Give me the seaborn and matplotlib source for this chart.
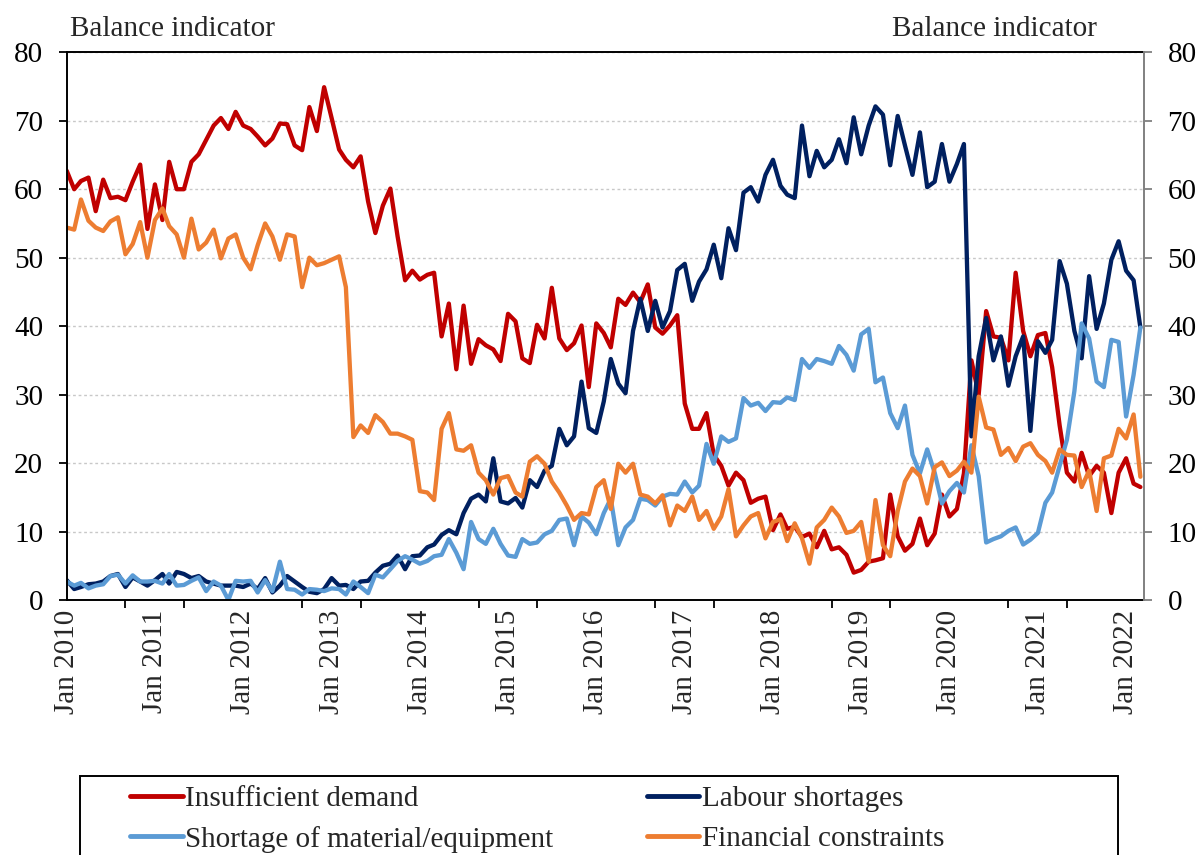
import numpy as np
import pandas as pd
import matplotlib
matplotlib.use("Agg")
import matplotlib.pyplot as plt
import matplotlib.dates as mdates
from matplotlib.patches import Rectangle
from matplotlib.lines import Line2D
import seaborn as sns

# ---------------- data (monthly, Jan 2010 - Mar 2022) ----------------
months = pd.date_range("2010-01-01", periods=147, freq="MS")

insufficient_demand = [
    62.7, 60.0, 61.2, 61.7, 56.8, 61.4, 58.7, 58.9, 58.4, 61.1, 63.6, 54.2, 60.7, 55.5, 64.0, 60.0, 60.0, 64.0, 65.1, 67.2, 69.3, 70.4, 68.8, 71.3, 69.3,
    68.8, 67.7, 66.4, 67.4, 69.6, 69.5, 66.4, 65.7, 72.0, 68.5, 74.9, 70.4, 65.8, 64.3, 63.2, 64.8, 58.2, 53.6, 57.6, 60.1, 53.1, 46.7, 48.1, 46.8, 47.5, 47.8,
    38.5, 43.3, 33.7, 43.0, 34.5, 38.1, 37.2, 36.6, 34.9, 41.8, 40.7, 35.3, 34.6, 40.2, 38.2, 45.6, 38.2, 36.5, 37.5, 40.1, 31.1, 40.4, 39.0,
    36.9, 44.0, 43.1, 44.9, 43.5, 46.1, 39.8, 38.9, 40.1, 41.6, 28.7, 25.0, 25.0, 27.3, 21.2, 19.6, 16.7, 18.6, 17.5, 14.2, 14.8, 15.1, 10.2, 12.5, 10.4,
    10.7, 9.2, 9.7, 7.7, 10.1, 7.4, 7.7, 6.6, 4.0, 4.4, 5.6, 5.8, 6.1, 15.4, 9.3, 7.2, 8.2, 11.9, 8.0, 9.7, 15.4, 12.2, 13.3,
    18.5, 35.0, 30.0, 42.2, 38.5, 38.3, 35.0, 47.8, 39.3, 35.6, 38.7, 39.0, 34.0, 25.5, 18.6, 17.3, 21.5, 18.1, 19.6, 18.6, 12.7, 18.6, 20.7, 17.0, 16.5,
]

labour_shortages = [
    2.9, 1.6, 1.9, 2.3, 2.4, 2.7, 3.5, 3.8, 1.9, 3.3, 2.7, 2.1, 2.9, 3.8, 2.4, 4.1, 3.8, 3.2, 3.5, 2.7, 2.4, 2.1, 2.1, 2.1,
    1.9, 2.4, 1.6, 3.2, 1.1, 2.1, 3.5, 2.7, 1.9, 1.2, 1.0, 1.6, 3.2, 2.1, 2.2, 1.6, 2.7, 2.8, 4.0, 5.0, 5.3, 6.5, 4.5, 6.4,
    6.5, 7.7, 8.1, 9.5, 10.2, 9.6, 12.7, 14.8, 15.4, 14.4, 20.7, 14.4, 14.1, 14.9, 13.5, 17.5, 16.5, 18.9, 19.6, 25.0, 22.6, 23.9, 31.9, 25.1, 24.4, 29.0,
    35.2, 31.6, 30.2, 39.3, 44.0, 39.3, 43.7, 39.8, 42.2, 48.2, 49.1, 43.7, 46.5, 48.3, 51.9, 47.0, 54.3, 51.1, 59.5, 60.3, 58.2, 62.1, 64.3, 60.5, 59.2,
    58.7, 69.3, 61.9, 65.6, 63.2, 64.3, 67.3, 63.8, 70.5, 65.1, 69.3, 72.1, 70.9, 63.5, 70.7, 66.4, 62.1, 68.3, 60.3, 61.1, 66.6, 61.1, 63.7, 66.6,
    23.9, 35.6, 41.2, 35.0, 38.5, 31.3, 35.6, 38.5, 24.7, 37.8, 36.1, 38.0, 49.5, 46.2, 39.3, 35.3, 47.3, 39.6, 43.3, 49.7, 52.4, 48.1, 46.7, 39.8,
]

material_equipment = [
    2.7, 2.1, 2.5, 1.7, 2.1, 2.3, 3.5, 3.7, 2.4, 3.6, 2.7, 2.7, 2.8, 2.4, 3.8, 2.1, 2.2, 2.8, 3.3, 1.3, 2.7, 2.1, 0.0, 2.8, 2.7,
    2.8, 1.1, 2.9, 1.3, 5.6, 1.6, 1.5, 0.8, 1.6, 1.5, 1.3, 1.7, 1.6, 0.8, 2.7, 1.9, 1.0, 3.7, 3.3, 4.5, 5.7, 6.4, 5.9,
    5.3, 5.7, 6.4, 6.6, 8.9, 6.9, 4.5, 11.4, 8.9, 8.2, 10.4, 8.2, 6.5, 6.3, 8.9, 8.2, 8.4, 9.6, 10.1, 11.7, 11.9, 8.0, 12.2, 11.3, 9.6, 12.7,
    14.8, 8.0, 10.6, 11.7, 14.8, 14.6, 13.8, 15.1, 15.5, 15.4, 17.3, 15.7, 16.7, 22.8, 19.9, 23.9, 23.1, 23.6, 29.5, 28.4, 28.8, 27.6, 28.9, 28.8, 29.6,
    29.2, 35.2, 33.9, 35.2, 34.9, 34.5, 37.1, 35.8, 33.5, 38.8, 39.6, 31.8, 32.5, 27.3, 25.1, 28.4, 21.2, 18.5, 22.0, 18.6, 14.1, 15.9, 17.1, 15.7,
    22.6, 18.1, 8.4, 8.9, 9.3, 10.1, 10.6, 8.1, 8.8, 9.8, 14.2, 15.7, 19.6, 23.4, 30.5, 40.4, 38.2, 31.9, 31.1, 38.0, 37.7, 26.8, 32.9, 39.8,
]

financial_constraints = [
    54.4, 54.1, 58.5, 55.4, 54.4, 53.9, 55.3, 55.9, 50.5, 52.0, 55.2, 50.0, 55.5, 57.2, 54.6, 53.4, 50.0, 55.7, 51.2, 52.2, 54.1, 49.9, 52.8, 53.4, 50.0,
    48.3, 51.8, 55.0, 53.1, 49.7, 53.4, 53.1, 45.7, 50.0, 48.9, 49.2, 49.7, 50.2, 45.7, 23.8, 25.5, 24.4, 27.0, 26.0, 24.3, 24.3, 23.9, 23.4,
    15.9, 15.7, 14.6, 25.0, 27.3, 22.0, 21.8, 22.6, 18.6, 17.5, 15.4, 17.8, 18.1, 15.7, 15.1, 20.2, 21.0, 19.9, 17.3, 15.7, 13.8, 11.7, 12.7, 12.5, 16.5, 17.5,
    13.3, 19.9, 18.6, 19.9, 15.4, 15.1, 14.1, 15.3, 10.9, 13.8, 13.0, 15.1, 11.7, 13.0, 10.4, 12.2, 16.2, 9.3, 10.9, 12.2, 12.7, 9.0, 11.4, 11.8, 8.6,
    11.2, 9.0, 5.3, 10.6, 11.7, 13.5, 12.2, 9.8, 10.1, 11.4, 5.6, 14.6, 8.0, 6.4, 13.0, 17.3, 19.2, 18.1, 14.1, 19.4, 20.1, 18.1, 18.9, 20.2,
    18.6, 29.7, 25.2, 24.9, 21.2, 22.2, 20.3, 22.4, 22.9, 21.2, 20.3, 18.6, 22.0, 21.2, 21.1, 16.5, 18.9, 13.0, 20.7, 21.1, 25.0, 23.6, 27.1, 18.0,
]

series_names = ["Insufficient demand", "Labour shortages",
                "Shortage of material/equipment", "Financial constraints"]
series_values = [insufficient_demand, labour_shortages,
                 material_equipment, financial_constraints]
palette = {
    "Insufficient demand": "#C00000",
    "Labour shortages": "#002060",
    "Shortage of material/equipment": "#5B9BD5",
    "Financial constraints": "#ED7D31",
}
year_ticks = pd.date_range("2010-01-01", "2022-01-01", freq="YS")
year_labels = [f"Jan {d.year}" for d in year_ticks]
y_ticks = list(range(0, 81, 10))

frames = []
for name, vals in zip(series_names, series_values):
    frames.append(pd.DataFrame({"date": months, "value": vals, "series": name}))
df = pd.concat(frames, ignore_index=True)

# ---------------- style ----------------
sns.set_theme(style="white")
plt.rcParams["font.family"] = ["Liberation Serif", "DejaVu Serif"]
plt.rcParams["lines.solid_joinstyle"] = "round"
plt.rcParams["lines.solid_capstyle"] = "round"

W, H = 1201, 855
fig = plt.figure(figsize=(W / 100, H / 100), dpi=100)
left_px, right_px, top_px, bottom_px = 66.7, 1144, 52.3, 600
ax = fig.add_axes([left_px / W, 1 - bottom_px / H,
                   (right_px - left_px) / W, (bottom_px - top_px) / H])

sns.lineplot(data=df, x="date", y="value", hue="series", hue_order=series_names,
             palette=palette, linewidth=3.1, estimator=None, sort=False,
             legend=False, ax=ax)

FS = 21
ax.set_ylim(0, 80)
ax.set_yticks(y_ticks)
ax.set_xlim(mdates.date2num(pd.Timestamp("2010-01-01")),
            mdates.date2num(pd.Timestamp("2022-03-16")))
ax.set_xlabel("")
ax.set_ylabel("")

ax.set_xticks(mdates.date2num(year_ticks))
ax.set_xticklabels(year_labels, rotation=90, fontsize=FS)
minor = pd.date_range("2010-01-01", "2022-03-01", freq="8MS")
ax.set_xticks(mdates.date2num(minor), minor=True)
ax.tick_params(axis="x", which="major", length=0, pad=7, labelsize=FS)
ax.tick_params(axis="x", which="minor", length=6, width=1.3, color="black",
               direction="out", bottom=True)
ax.tick_params(axis="y", which="major", left=True, length=6, width=1.3,
               color="black", direction="out", pad=11, labelsize=FS,
               labelcolor="black")

ax.yaxis.grid(True, linestyle=(0, (2, 2)), color="#C8C8C8", linewidth=1)
ax.xaxis.grid(False)
ax.set_axisbelow(True)

for side in ["left", "bottom", "top"]:
    ax.spines[side].set_visible(True)
    ax.spines[side].set_color("black")
    ax.spines[side].set_linewidth(1.4)
ax.spines["right"].set_visible(False)

ax2 = ax.twinx()
ax2.set_ylim(0, 80)
ax2.set_yticks(y_ticks)
ax2.tick_params(axis="y", which="major", right=True, length=6, width=1.3,
                color="#808080", direction="out", pad=11, labelsize=FS,
                labelcolor="black")
for side in ["left", "bottom", "top"]:
    ax2.spines[side].set_visible(False)
ax2.spines["right"].set_visible(True)
ax2.spines["right"].set_color("#808080")
ax2.spines["right"].set_linewidth(1.4)
ax2.grid(False)

# axis titles
fig.text(70 / W, 1 - 36 / H, "Balance indicator", fontsize=FS,
         ha="left", va="baseline")
fig.text(1097 / W, 1 - 36 / H, "Balance indicator", fontsize=FS,
         ha="right", va="baseline")

# legend (two rows, two columns) with a square frame
order = ["Insufficient demand", "Shortage of material/equipment",
         "Labour shortages", "Financial constraints"]
handles = [Line2D([0], [0], color=palette[n], linewidth=3.5,
                  solid_capstyle="round") for n in order]
fig.legend(handles, order, loc="upper left",
           bbox_to_anchor=(130 / W, 1 - 786 / H), ncol=2, frameon=False,
           fontsize=FS, handlelength=1.8, handletextpad=0.1,
           columnspacing=3.2, labelspacing=0.45, borderpad=0,
           borderaxespad=0)
fig.patches.append(Rectangle((80 / W, -0.1), (1118 - 80) / W,
                             (1 - 776 / H) + 0.1, transform=fig.transFigure,
                             fill=False, edgecolor="black", linewidth=1.4))

fig.savefig("out.png", dpi=100)
